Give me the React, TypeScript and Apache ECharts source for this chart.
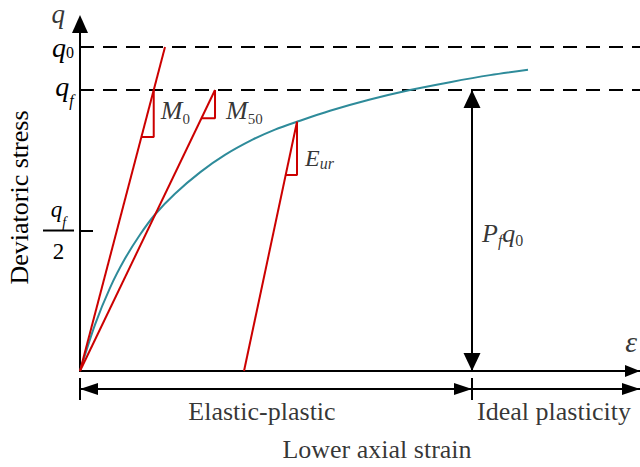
import React, { useEffect, useRef } from "react";
import * as echarts from "echarts";

// ---- data (normalised: q_f = 1, strain in arbitrary units 0..10) ----
const curveStrain = [0, 0.268, 0.536, 0.804, 1.071, 1.339, 1.696, 2.143, 2.589, 3.089, 3.482, 3.875, 4.464, 5.179, 5.893, 6.607, 7.321, 8.0];
const curveStress = [0, 0.165, 0.296, 0.4, 0.485, 0.557, 0.631, 0.707, 0.769, 0.824, 0.859, 0.887, 0.926, 0.966, 1.0, 1.028, 1.053, 1.072];
const Q0 = 1.153;
const QF = 1.0;
const yTickValues = [QF / 2, QF, Q0];
const m0Line = [[0, 0], [1.518, Q0]];
const m50Line = [[0, 0], [2.411, QF]];
const eurLine = [[2.929, 0], [3.875, 0.887]];
const m0TriY = [1.0, 0.833];
const m50TriY = [1.0, 0.9];
const eurTriY = [0.887, 0.698];
const phaseBounds = [0, 7, 10];
const phaseNames = ["Elastic-plastic", "Ideal plasticity"];
const X_MAX = 10;
const Y_MAX = 1.235;

const SERIF = "'Liberation Serif', 'Times New Roman', Times, serif";
const RED = "#cc0000";
const TEAL = "#2e8b9a";
const BLACK = "#000";

const xAt = (line: number[][], y: number) =>
  line[0][0] + ((line[1][0] - line[0][0]) * (y - line[0][1])) / (line[1][1] - line[0][1]);
const triangle = (line: number[][], ys: number[]) => {
  const xt = xAt(line, ys[0]);
  return [[xt, ys[0]], [xt, ys[1]], [xAt(line, ys[1]), ys[1]]];
};

const font = (size: number, lh: number, italic = true, extra: any = {}) => ({
  fontFamily: SERIF,
  fontSize: size,
  lineHeight: lh,
  fontStyle: italic ? "italic" : "normal",
  color: BLACK,
  ...extra,
});

const lineSeries = (pts: number[][], color: string, extra: any = {}) => ({
  type: "line",
  data: pts,
  symbol: "none",
  silent: true,
  lineStyle: { color, width: 2 },
  z: 3,
  ...extra,
});

const ann = (x: number, y: number, text: string, label: any) => ({
  value: [x, y],
  label: { show: true, position: "inside", formatter: text, verticalAlign: "middle", ...label },
});

export default function App() {
  const ref = useRef<HTMLDivElement>(null);
  useEffect(() => {
    document.body.style.margin = "0";
    const chart = echarts.init(ref.current!, undefined, { renderer: "svg" });
    const curve = curveStrain.map((x, i) => [x, curveStress[i]]);
    const pfX = phaseBounds[1];
    const mid = (a: number[]) => (a[0] + a[1]) / 2;

    const annotations = [
      ann(0, Y_MAX, "{v|q}", { align: "right", offset: [-15, -10], rich: { v: font(27, 20) } }),
      ann(xAt(m0Line, m0TriY[0]), mid(m0TriY), "{m|M}{s|0}", {
        align: "left", offset: [7, -3],
        rich: { m: font(26, 32), s: font(15, 15, false, { verticalAlign: "bottom" }) },
      }),
      ann(xAt(m50Line, m50TriY[0]), mid(m50TriY), "{m|M}{s|50}", {
        align: "left", offset: [11, 6],
        rich: { m: font(26, 32), s: font(15, 15, false, { verticalAlign: "bottom" }) },
      }),
      ann(eurLine[1][0], mid(eurTriY), "{m|E}{s|ur}", {
        align: "left", offset: [8, 10],
        rich: { m: font(24, 26), s: font(16, 16, true, { verticalAlign: "bottom" }) },
      }),
      ann(pfX, QF / 2, "{p|P}{f|f}{q|q}{z|0}", {
        align: "left", offset: [10, 3],
        rich: {
          p: font(26, 30), f: font(16, 12, true, { verticalAlign: "bottom" }),
          q: font(26, 30), z: font(16, 20, false, { verticalAlign: "bottom" }),
        },
      }),
      ann(X_MAX, 0, "{e|ε}", { align: "right", offset: [-3, -30], rich: { e: font(30, 32) } }),
      ann((phaseBounds[0] + phaseBounds[1]) / 2, 0, phaseNames[0], {
        align: "center", offset: [-14, 40], ...font(26, 28, false),
      }),
      ann((phaseBounds[1] + phaseBounds[2]) / 2, 0, phaseNames[1], {
        align: "center", offset: [-2, 40], ...font(26, 28, false),
      }),
      ann(X_MAX / 2, 0, "Lower axial strain", {
        align: "center", offset: [17, 78], ...font(26, 28, false),
      }),
    ];

    const arrowMarks = (size: number[], data: any[]) => ({
      silent: true,
      animation: false,
      symbol: ["triangle", "triangle"],
      symbolSize: size,
      symbolOffset: [[0, size[1] / 2], [0, size[1] / 2]],
      label: { show: false },
      lineStyle: { color: BLACK, width: 2, type: "solid" },
      emphasis: { disabled: true },
      data,
    });

    const option: any = {
      animation: false,
      backgroundColor: "#fff",
      grid: [
        { left: 80, right: 0, top: 24, bottom: 96, containLabel: false, outerBoundsMode: "none" },
        { left: 80, right: 0, top: 378, height: 22, containLabel: false, outerBoundsMode: "none" },
      ],
      xAxis: [
        {
          type: "value", min: 0, max: X_MAX, gridIndex: 0,
          axisLine: {
            show: true, onZero: false, symbol: ["none", "triangle"], symbolSize: [12, 15],
            symbolOffset: [0, -7.5], lineStyle: { color: BLACK, width: 2 },
          },
          axisTick: { show: false }, axisLabel: { show: false }, splitLine: { show: false },
        },
        { type: "value", min: 0, max: X_MAX, gridIndex: 1, show: false },
      ],
      yAxis: [
        {
          type: "value", min: 0, max: Y_MAX, gridIndex: 0,
          name: "Deviatoric stress", nameLocation: "middle", nameGap: 44,
          nameTextStyle: { fontFamily: SERIF, fontSize: 26, color: BLACK },
          axisLine: {
            show: true, onZero: false, symbol: ["none", "triangle"], symbolSize: [16, 18],
            lineStyle: { color: BLACK, width: 2 },
          },
          axisTick: {
            show: true, customValues: [QF / 2], inside: true, length: 13,
            lineStyle: { color: BLACK, width: 2 },
          },
          axisLabel: {
            show: true, customValues: yTickValues, margin: 6,
            formatter: (v: number) => {
              if (Math.abs(v - Q0) < 1e-6) return "{q|q}{s0|0}";
              if (Math.abs(v - QF) < 1e-6) return "{qq|q}{sf|f}{sp| }";
              if (Math.abs(v - QF / 2) < 1e-6) return "{fq|q}{ff|f}\n{bar| }\n{fd|2}";
              return "";
            },
            rich: {
              q: font(28, 27),
              s0: font(16, 15, false, { verticalAlign: "bottom" }),
              qq: font(28, 26, true, { verticalAlign: "top" }),
              sf: font(16, 25, true, { verticalAlign: "bottom" }),
              sp: font(1, 36, false),
              fq: font(23, 40, true, { align: "center" }),
              ff: font(14, 30, true, { align: "center", verticalAlign: "bottom" }),
              bar: { fontSize: 1, lineHeight: 2, height: 2, width: 31, backgroundColor: BLACK, align: "center" },
              fd: font(23, 40, false, { align: "center" }),
            },
          },
          splitLine: { show: false },
        },
        { type: "value", min: 0, max: 1, gridIndex: 1, show: false },
      ],
      series: [
        lineSeries([[0, Q0], [X_MAX, Q0]], BLACK, { lineStyle: { color: BLACK, width: 2, type: [14, 9] }, z: 2 }),
        lineSeries([[0, QF], [X_MAX, QF]], BLACK, { lineStyle: { color: BLACK, width: 2, type: [14, 9] }, z: 2 }),
        lineSeries(curve, TEAL, { smooth: 0.3 }),
        lineSeries(m0Line, RED),
        lineSeries(triangle(m0Line, m0TriY), RED),
        lineSeries(m50Line, RED),
        lineSeries(triangle(m50Line, m50TriY), RED),
        lineSeries(eurLine, RED),
        lineSeries(triangle(eurLine, eurTriY), RED),
        lineSeries([[pfX, 0], [pfX, QF]], BLACK, {
          z: 4,
          markLine: arrowMarks([17, 18], [[{ coord: [pfX, 0] }, { coord: [pfX, QF] }]]),
        }),
        lineSeries([[phaseBounds[0], 0.5], [phaseBounds[2], 0.5]], BLACK, {
          xAxisIndex: 1, yAxisIndex: 1,
          markLine: arrowMarks([12, 18], [
            [{ coord: [phaseBounds[0], 0.5] }, { coord: [phaseBounds[1], 0.5] }],
            [{ coord: [phaseBounds[1], 0.5], symbol: "none" }, { coord: [phaseBounds[2], 0.5] }],
            [{ coord: [phaseBounds[0], 0], symbol: "none" }, { coord: [phaseBounds[0], 1], symbol: "none" }],
            [{ coord: [phaseBounds[1], 0], symbol: "none" }, { coord: [phaseBounds[1], 1], symbol: "none" }],
          ]),
        }),
        {
          type: "scatter",
          data: annotations,
          symbolSize: 1,
          clip: false,
          silent: true,
          itemStyle: { color: "rgba(0,0,0,0)" },
          z: 5,
        },
      ],
    };
    chart.setOption(option);
    return () => chart.dispose();
  }, []);
  return (
    <div
      ref={ref}
      style={{ width: 640, height: 467, position: "fixed", left: 0, top: 0, background: "#fff" }}
    />
  );
}
